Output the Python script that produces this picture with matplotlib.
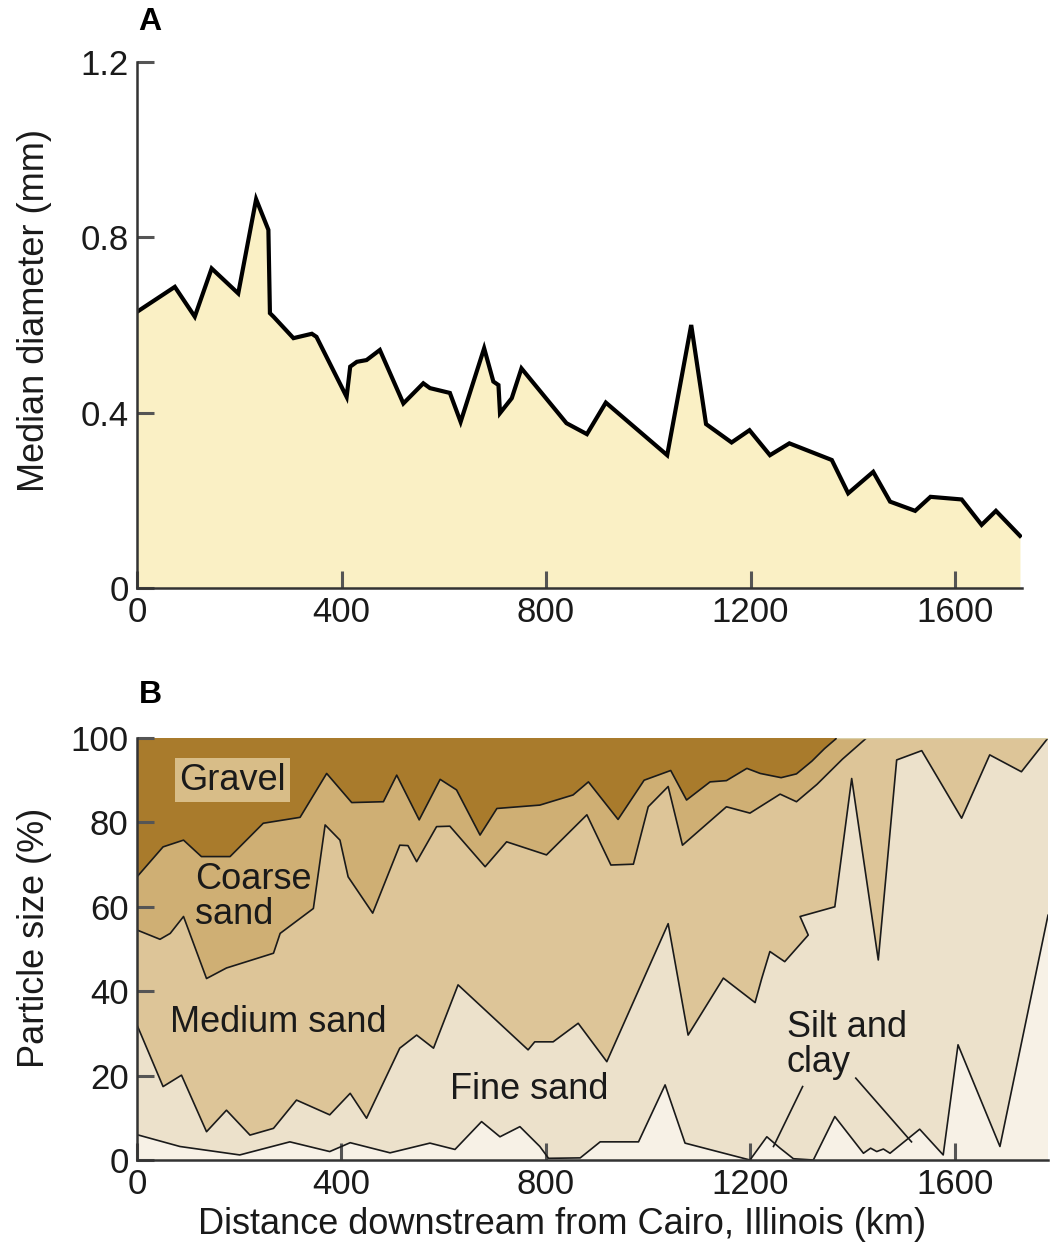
import numpy as np
import matplotlib
matplotlib.use("Agg")
import matplotlib.pyplot as plt

plt.rcParams['font.family'] = ['Liberation Sans', 'DejaVu Sans']

# --- panel A: median grain diameter along the river
dist_a = [0, 74, 113, 146, 198, 233, 257, 260, 267, 306, 342, 351, 410, 417,
          430, 449, 475, 521, 560, 573, 612, 633, 679, 697, 707, 710, 733, 752,
          840, 880, 917, 1037, 1084, 1113, 1163, 1198, 1238, 1276, 1359, 1391,
          1440, 1473, 1522, 1552, 1613, 1652, 1680, 1727]
diam_a = [0.630, 0.687, 0.619, 0.729, 0.672, 0.887, 0.817, 0.627, 0.619, 0.570,
          0.580, 0.573, 0.436, 0.505, 0.516, 0.520, 0.543, 0.421, 0.467, 0.456,
          0.445, 0.379, 0.547, 0.471, 0.463, 0.399, 0.433, 0.501, 0.376, 0.351,
          0.423, 0.303, 0.600, 0.374, 0.332, 0.360, 0.303, 0.330, 0.292, 0.216,
          0.265, 0.197, 0.176, 0.208, 0.202, 0.144, 0.176, 0.119]

# --- panel B: cumulative particle size boundaries (%)
# gravel / coarse sand
x_gravel = [0, 51, 91, 126, 182, 247, 319, 371, 420, 482, 508, 552, 593, 625,
            671, 704, 788, 853, 883, 941, 992, 1044, 1075, 1121, 1153, 1193,
            1219, 1260, 1290, 1320, 1345, 1369]
y_gravel = [67.1, 74.2, 75.8, 71.9, 71.9, 79.8, 81.2, 91.6, 84.7, 84.9, 91.2,
            80.6, 90.2, 87.7, 77.0, 83.3, 84.1, 86.5, 89.6, 80.7, 90.0, 92.3,
            85.3, 89.6, 89.9, 92.8, 91.6, 90.6, 91.5, 94.5, 97.5, 100]
# coarse / medium sand
x_coarse = [0, 45, 65, 91, 136, 175, 267, 280, 345, 368, 397, 413, 461, 514,
            530, 547, 586, 612, 681, 723, 801, 880, 927, 971, 1000, 1039, 1067,
            1153, 1199, 1258, 1290, 1330, 1380, 1427]
y_coarse = [54.5, 52.3, 53.7, 57.7, 43.0, 45.5, 49.0, 53.7, 59.6, 79.4, 75.8,
            67.1, 58.5, 74.6, 74.5, 70.7, 79.0, 79.1, 69.5, 75.4, 72.3, 81.8,
            69.9, 70.1, 83.7, 88.5, 74.6, 83.7, 82.2, 86.7, 84.9, 89.0, 95.0, 100]
# medium / fine sand
x_medium = [0, 51, 87, 136, 175, 221, 267, 312, 377, 417, 449, 514, 547, 580,
            628, 765, 778, 814, 863, 919, 1039, 1078, 1147, 1209, 1222, 1238,
            1267, 1313, 1297, 1365, 1398, 1450, 1486, 1535, 1613, 1668, 1730, 1782]
y_medium = [32.0, 17.4, 20.1, 6.7, 11.8, 5.9, 7.5, 14.2, 10.7, 15.8, 9.9, 26.5,
            29.6, 26.5, 41.5, 26.1, 28.0, 28.0, 32.4, 23.3, 56.0, 29.6, 43.1,
            37.3, 43.0, 49.4, 47.0, 53.3, 57.7, 60.0, 90.4, 47.4, 94.8, 97.0,
            81.0, 96.0, 92.0, 100]
# fine sand / silt and clay
x_fine = [0, 84, 201, 299, 377, 417, 495, 573, 622, 674, 710, 749, 788, 805,
          867, 906, 981, 1033, 1072, 1199, 1232, 1258, 1284, 1323, 1365, 1421,
          1435, 1447, 1460, 1473, 1531, 1577, 1606, 1688, 1782]
y_fine = [6.0, 3.2, 1.2, 4.3, 2.0, 4.1, 1.7, 4.0, 2.5, 9.1, 5.5, 7.9, 3.2, 0.4,
          0.5, 4.3, 4.3, 17.8, 4.0, 0.0, 5.5, 2.8, 0.3, 0.0, 10.3, 1.6, 2.8,
          2.0, 2.6, 1.6, 7.3, 1.2, 27.3, 3.2, 58.0]

c_fill_a = '#FAF0C5'
c_gravel = '#A97B2C'
c_coarse = '#CFAF74'
c_medium = '#DDC598'
c_fine = '#ECE1CB'
c_silt = '#F7F1E6'
c_axis = '#333333'

fig = plt.figure(figsize=(10.5, 12.48), dpi=100)

def style_axes(ax):
    for s in ['top', 'right']:
        ax.spines[s].set_visible(False)
    for s in ['left', 'bottom']:
        ax.spines[s].set_color(c_axis)
        ax.spines[s].set_linewidth(1.8)
        ax.spines[s].set_zorder(5)
    ax.tick_params(direction='in', length=12, width=2.2, color='#555555',
                   labelsize=25, pad=6, labelcolor='#1a1a1a')

# panel A
axA = fig.add_axes([137 / 1050, 1 - 588 / 1248, 885 / 1050, 526 / 1248])
axA.fill_between(dist_a, diam_a, 0, color=c_fill_a, lw=0)
axA.plot(dist_a, diam_a, color='black', lw=3, solid_joinstyle='miter')
axA.set_xlim(0, 1731)
axA.set_ylim(0, 1.2)
axA.set_xticks([0, 400, 800, 1200, 1600])
axA.set_yticks([0, 0.4, 0.8, 1.2])
axA.set_yticklabels(['0', '0.4', '0.8', '1.2'])
style_axes(axA)

# panel B
axB = fig.add_axes([137 / 1050, 1 - 1160 / 1248, 911 / 1050, 422 / 1248])
xmax = 1782
axB.set_xlim(0, xmax)
axB.set_ylim(0, 100)
axB.fill([0, xmax, xmax, 0], [0, 0, 100, 100], color=c_gravel, lw=0)
layers = [(x_gravel, y_gravel, c_coarse), (x_coarse, y_coarse, c_medium),
          (x_medium, y_medium, c_fine), (x_fine, y_fine, c_silt)]
for xs, ys, col in layers:
    xs = list(xs)
    ys = list(ys)
    if xs[-1] < xmax:
        xs.append(xmax)
        ys.append(ys[-1])
    axB.fill(xs + [xmax, 0], ys + [0, 0], color=col, lw=0)
for xs, ys, col in layers:
    axB.plot(xs, ys, color='#1a1a1a', lw=1.2)
axB.plot([x_gravel[-1], xmax], [100, 100], color='#d9cfa8', lw=1.0)
axB.set_xticks([0, 400, 800, 1200, 1600])
axB.set_yticks([0, 20, 40, 60, 80, 100])
style_axes(axB)

# region labels
lab = dict(fontsize=26, color='#1a1a1a')
axB.text(186, 90, 'Gravel', ha='center', va='center',
         bbox=dict(boxstyle='square,pad=0.12', fc='#D8BD88', ec='none'), **lab)
axB.text(113, 62.3, 'Coarse\nsand', ha='left', va='center', linespacing=1.0, **lab)
axB.text(65, 32.7, 'Medium sand', ha='left', va='center', **lab)
axB.text(612, 16.6, 'Fine sand', ha='left', va='center', **lab)
axB.text(1271, 27.3, 'Silt and\nclay', ha='left', va='center', linespacing=1.0, **lab)
axB.plot([1302, 1245], [17.4, 3.2], color='#1a1a1a', lw=1.2)
axB.plot([1406, 1515], [19.4, 4.3], color='#1a1a1a', lw=1.2)

# panel letters and axis titles
fig.text(150 / 1050, 1 - 22 / 1248, 'A', fontsize=23, fontweight='bold',
         ha='center', va='center')
fig.text(150 / 1050, 1 - 695 / 1248, 'B', fontsize=23, fontweight='bold',
         ha='center', va='center')
fig.text(35 / 1050, 1 - 310 / 1248, 'Median diameter (mm)', fontsize=26,
         rotation=90, ha='center', va='center', color='#1a1a1a')
fig.text(35 / 1050, 1 - 938 / 1248, 'Particle size (%)', fontsize=26,
         rotation=90, ha='center', va='center', color='#1a1a1a')
fig.text(562 / 1050, 1 - 1224 / 1248, 'Distance downstream from Cairo, Illinois (km)',
         fontsize=26, ha='center', va='center', color='#1a1a1a')

fig.savefig('out.png', dpi=100)
